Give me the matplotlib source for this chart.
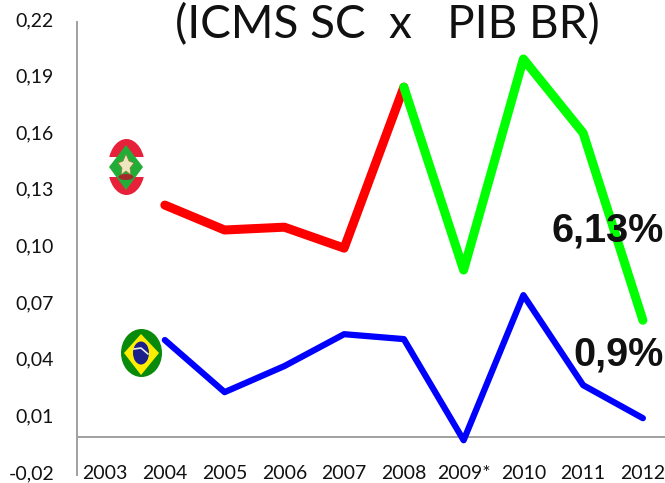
import matplotlib
matplotlib.use("Agg")
import matplotlib.pyplot as plt
from matplotlib.patches import Ellipse, Polygon, Rectangle
from matplotlib.transforms import ScaledTranslation

W, H = 665, 483
years = ["2003", "2004", "2005", "2006", "2007", "2008", "2009*", "2010", "2011", "2012"]
yticks = [-0.02, 0.01, 0.04, 0.07, 0.10, 0.13, 0.16, 0.19, 0.22]
red_x = [1, 2, 3, 4, 5]
red_y = [0.123, 0.1098, 0.1113, 0.1002, 0.1855]
green_x = [5, 6, 7, 8, 9]
green_y = [0.1855, 0.0886, 0.2004, 0.1612, 0.062]
blue_x = [1, 2, 3, 4, 5, 6, 7, 8, 9]
blue_y = [0.0515, 0.0239, 0.0377, 0.0546, 0.052, -0.0016, 0.0753, 0.0276, 0.0101]

plt.rcParams["font.family"] = ["Lato", "DejaVu Sans"]
fig = plt.figure(figsize=(W / 100, H / 100), dpi=100)
L, R, T, B = 77, 665, 22, 475
ax = fig.add_axes([L / W, 1 - B / H, (R - L) / W, (B - T) / H])
ax.set_xlim(-0.47, 9.37)
ax.set_ylim(-0.02, 0.22)
ax.patch.set_alpha(0)
for s in ["top", "right", "bottom"]:
    ax.spines[s].set_visible(False)
ax.spines["left"].set_color("#a0a0a0")
ax.spines["left"].set_linewidth(1.4)
ax.axhline(0, color="#a0a0a0", lw=1.4, zorder=1)
ax.set_xticks(range(len(years)))
ax.set_xticklabels(years, fontsize=14, color="#111111")
ax.tick_params(axis="x", length=0, pad=-7)
ax.set_yticks(yticks)
ax.set_yticklabels([f"{v:.2f}".replace(".", ",") for v in yticks], fontsize=14, color="#111111")
ax.tick_params(axis="y", length=0, pad=16.5)
up = ScaledTranslation(0, 3 / 100, fig.dpi_scale_trans)
for lbl in ax.get_yticklabels():
    lbl.set_transform(lbl.get_transform() + up)

ax.plot(red_x, red_y, color="#ff0000", lw=6.5, solid_capstyle="round", solid_joinstyle="round", zorder=3)
ax.plot(green_x, green_y, color="#00ff00", lw=6.5, solid_capstyle="round", solid_joinstyle="round", zorder=4)
ax.plot(blue_x, blue_y, color="#0000ff", lw=4.5, solid_capstyle="round", solid_joinstyle="round", zorder=3)

fig.text(387 / W, 1 - 25 / H, "(ICMS SC  x   PIB BR)", fontsize=33, ha="center", va="center", color="#111111")
fig.text(664 / W, 1 - 230 / H, "6,13%", fontsize=28.5, family="Liberation Sans", weight="bold", ha="right", va="center", color="#111111", zorder=6)
fig.text(664 / W, 1 - 354 / H, "0,9%", fontsize=28.5, family="Liberation Sans", weight="bold", ha="right", va="center", color="#111111", zorder=6)

ov = fig.add_axes([0, 0, 1, 1])
ov.set_xlim(0, W)
ov.set_ylim(H, 0)
ov.axis("off")
ov.patch.set_alpha(0)
# Santa Catarina emblem
ov.add_patch(Ellipse((126.5, 167), 37, 56, fc="#e8213a", ec="none"))
ov.add_patch(Rectangle((100, 157), 50, 20, fc="white", ec="none"))
ov.add_patch(Polygon([(126, 145), (143, 167), (126, 190), (109, 167)], fc="#22ac38", ec="none"))
ov.add_patch(Polygon([(126, 154), (129, 161), (134, 163), (130, 168), (131, 175), (126, 171), (121, 175), (122, 168), (118, 163), (123, 161)],
                     fc="#efe6c0", ec="#8a7a30", lw=0.5))
ov.add_patch(Ellipse((126, 177), 15, 6, fc="#a52a2a", ec="none"))
# Brazil flag
ov.add_patch(Ellipse((141.5, 353), 41, 48, fc="#0a8a0a", ec="none"))
ov.add_patch(Polygon([(141, 334), (159, 353), (141, 375), (124, 353)], fc="#ffee00", ec="none"))
ov.add_patch(Ellipse((141, 353), 16, 23, fc="#1a1f8c", ec="none"))
ov.plot([134, 141, 148], [349, 348, 354], color="#e8e8e8", lw=1.2)
fig.savefig("out.png", dpi=100, facecolor="white")
